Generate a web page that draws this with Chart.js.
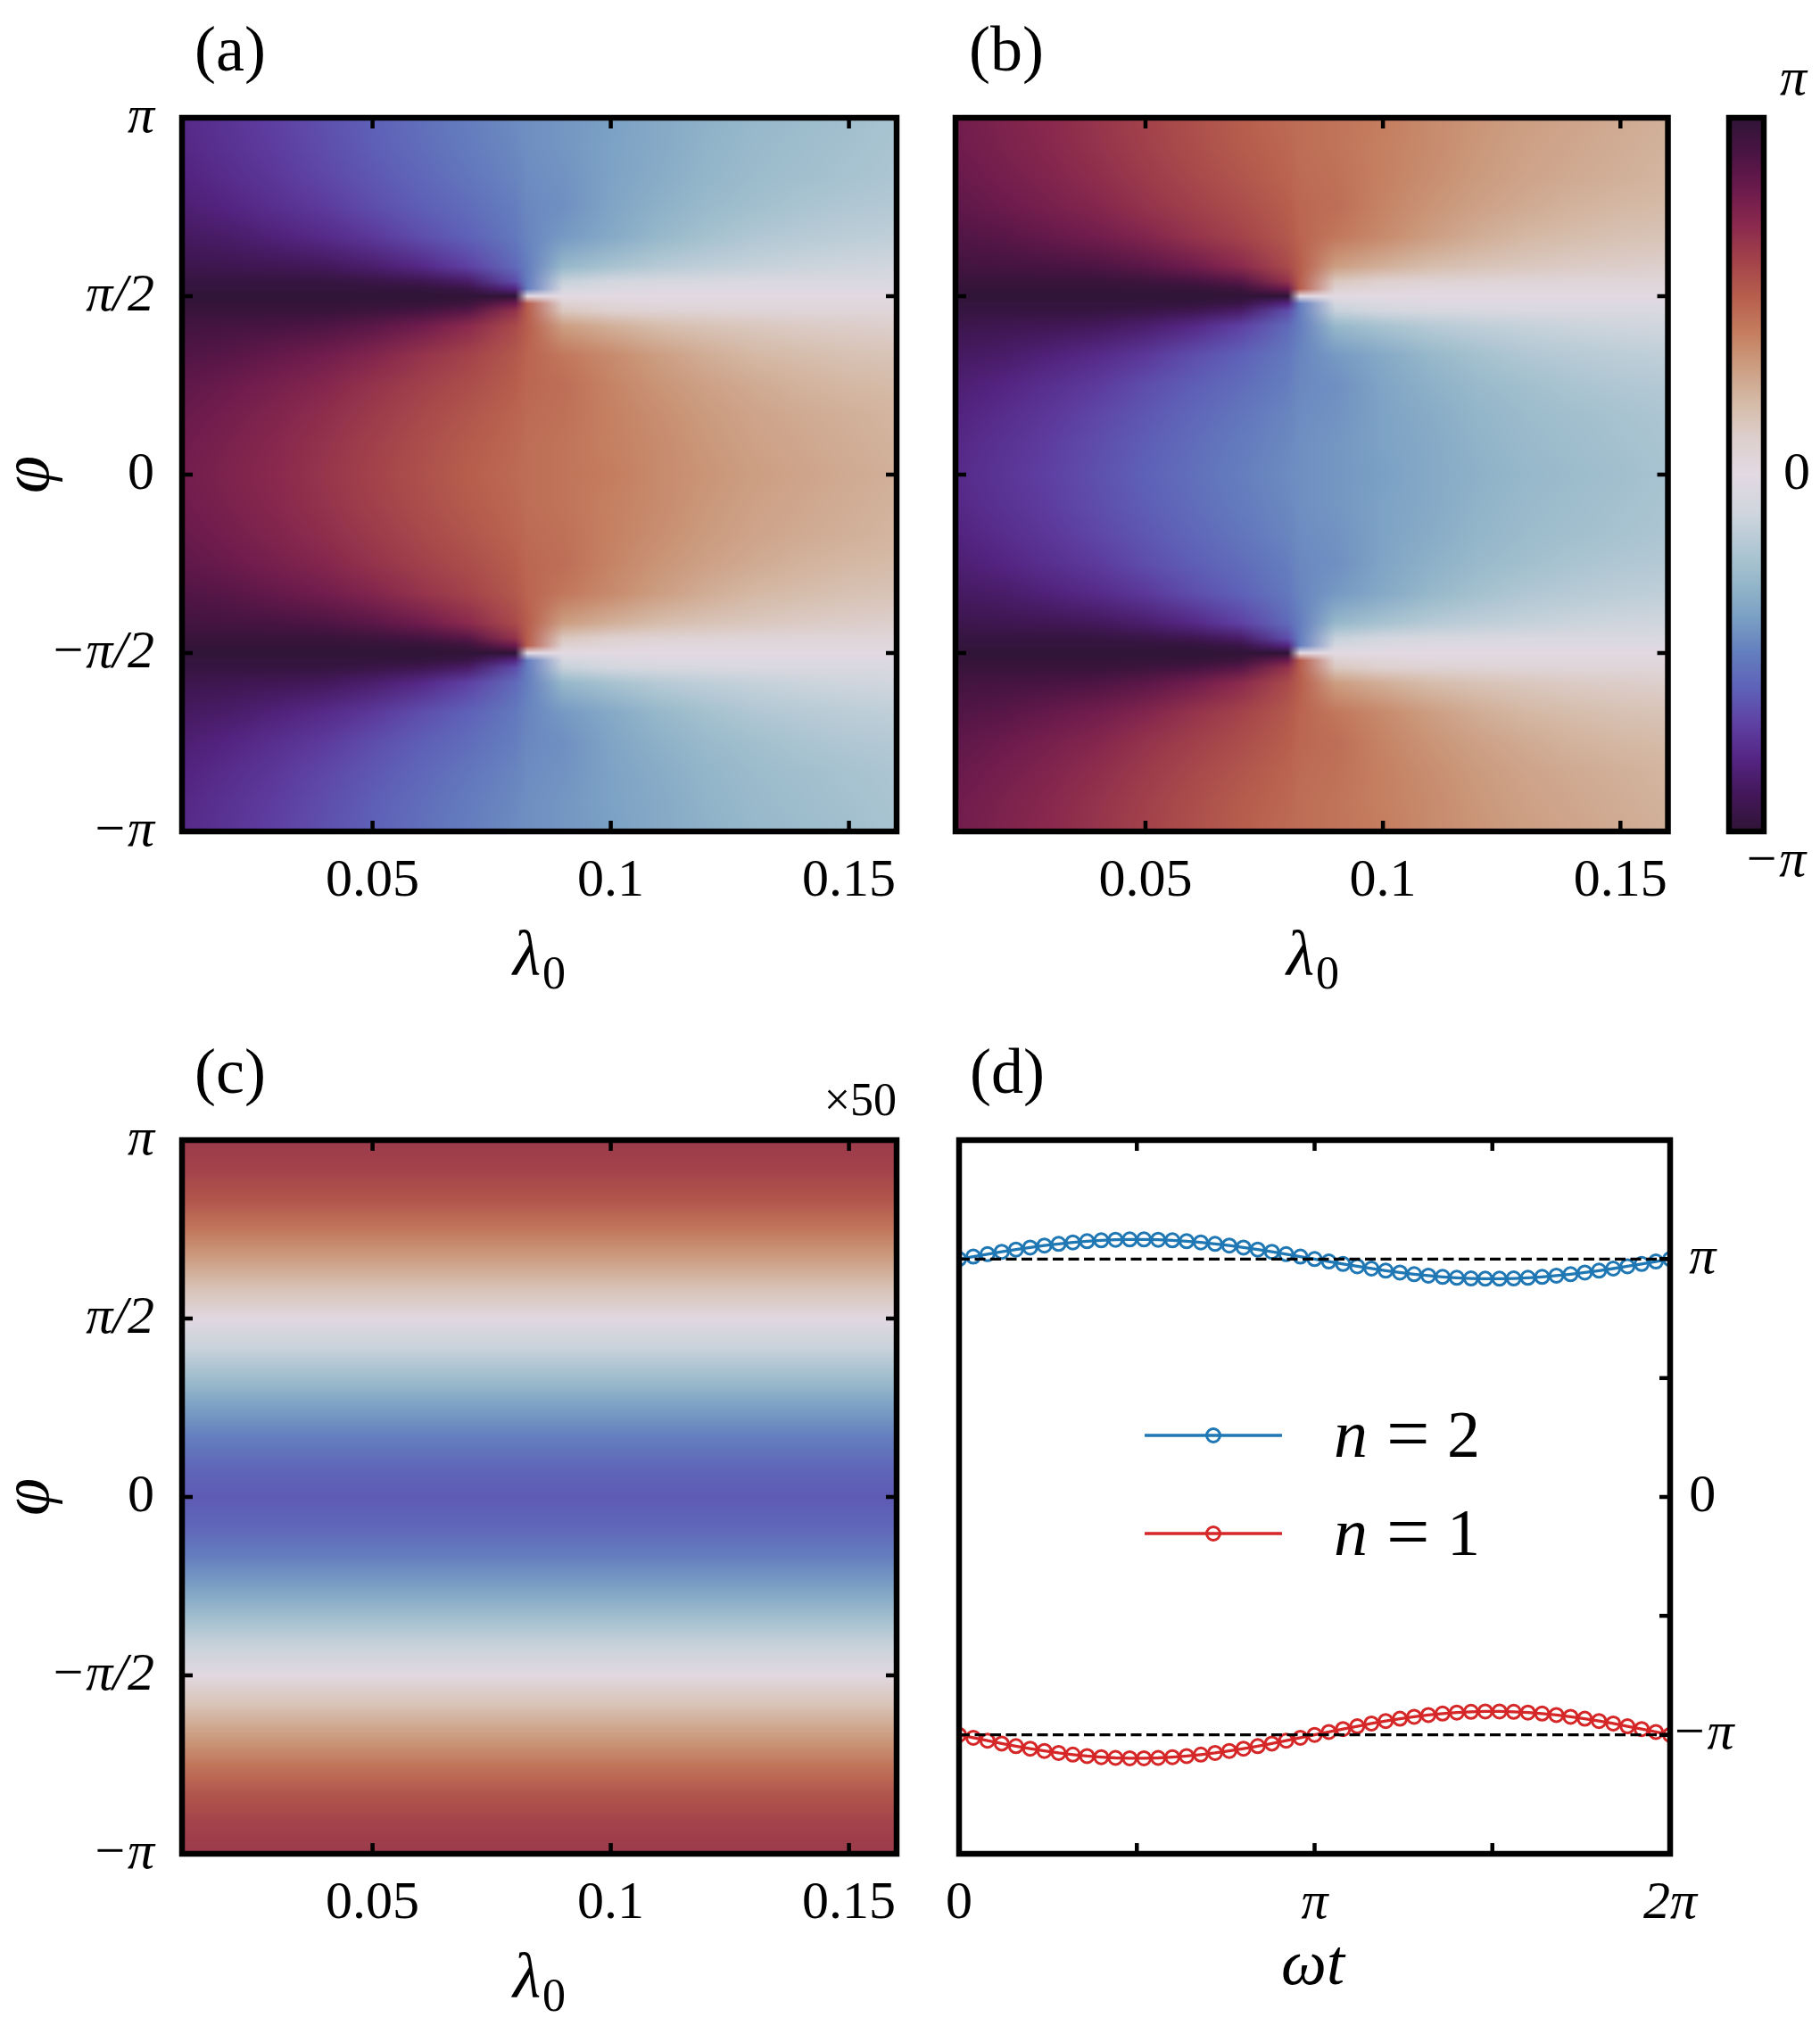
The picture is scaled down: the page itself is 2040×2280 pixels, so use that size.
<!DOCTYPE html>
<html>
<head>
<meta charset="utf-8">
<title>phase maps</title>
<script src="https://cdn.jsdelivr.net/npm/chart.js@4.4.1/dist/chart.umd.min.js"></script>
<style>
  html, body { margin: 0; padding: 0; background: #ffffff; }
  #page { position: relative; width: 2040px; height: 2280px; overflow: hidden; background: #ffffff; }
  #page canvas { position: absolute; }
</style>
</head>
<body>
<div id="page">
  <canvas id="chartA" width="1040" height="1140" style="left:0px;top:0px;width:1040px;height:1140px"></canvas>
  <canvas id="chartB" width="850" height="1140" style="left:1040px;top:0px;width:850px;height:1140px"></canvas>
  <canvas id="chartBar" width="150" height="1140" style="left:1890px;top:0px;width:150px;height:1140px"></canvas>
  <canvas id="chartC" width="1040" height="1140" style="left:0px;top:1140px;width:1040px;height:1140px"></canvas>
  <canvas id="chartD" width="1000" height="1140" style="left:1040px;top:1140px;width:1000px;height:1140px"></canvas>
</div>
<script>
var PI = Math.PI;
var SERIF = '"Liberation Serif", "DejaVu Serif", serif';

// ---------- panels (a), (b): phase on a (lambda_0, phi) grid ----------
// extra column at the branch point (0.0825)
var lambdaGrid = [0.01, 0.02, 0.03, 0.04, 0.05, 0.06, 0.07, 0.08, 0.0825, 0.09, 0.10, 0.11, 0.12, 0.13, 0.14, 0.15, 0.16];
// rows from phi = pi (top) down to -pi; finer rows around +-pi/2
var phiGrid = [PI, 11 * PI / 12, 10 * PI / 12, 9 * PI / 12, 8 * PI / 12, 7 * PI / 12, 13 * PI / 24, 25 * PI / 48,
  PI / 2, 23 * PI / 48, 11 * PI / 24, 5 * PI / 12, 4 * PI / 12, 3 * PI / 12, 2 * PI / 12, PI / 12, 0,
  -PI / 12, -2 * PI / 12, -3 * PI / 12, -4 * PI / 12, -5 * PI / 12, -11 * PI / 24, -23 * PI / 48,
  -PI / 2, -25 * PI / 48, -13 * PI / 24, -7 * PI / 12, -8 * PI / 12, -9 * PI / 12, -10 * PI / 12, -11 * PI / 12, -PI];

// phase / pi
var phaseA = [
  [-0.78,-0.74,-0.70,-0.65,-0.60,-0.55,-0.50,-0.46,-0.45,-0.43,-0.40,-0.36,-0.33,-0.30,-0.28,-0.26,-0.24],
  [-0.79,-0.75,-0.71,-0.66,-0.61,-0.56,-0.51,-0.47,-0.45,-0.43,-0.39,-0.36,-0.32,-0.29,-0.27,-0.25,-0.23],
  [-0.81,-0.77,-0.73,-0.68,-0.63,-0.58,-0.53,-0.48,-0.46,-0.44,-0.39,-0.35,-0.31,-0.28,-0.26,-0.24,-0.22],
  [-0.84,-0.80,-0.76,-0.72,-0.66,-0.61,-0.56,-0.50,-0.47,-0.45,-0.38,-0.33,-0.29,-0.26,-0.23,-0.21,-0.20],
  [-0.88,-0.86,-0.82,-0.78,-0.73,-0.66,-0.60,-0.52,-0.48,-0.42,-0.36,-0.30,-0.25,-0.21,-0.19,-0.17,-0.16],
  [-0.93,-0.92,-0.91,-0.89,-0.85,-0.79,-0.70,-0.57,-0.50,-0.30,-0.24,-0.19,-0.16,-0.14,-0.12,-0.11,-0.10],
  [-0.97,-0.97,-0.97,-0.97,-0.95,-0.92,-0.86,-0.66,-0.50,-0.14,-0.09,-0.07,-0.06,-0.05,-0.05,-0.05,-0.05],
  [-0.98,-0.98,-0.98,-0.98,-0.98,-0.98,-0.95,-0.80,-0.50,-0.08,-0.05,-0.03,-0.03,-0.03,-0.03,-0.03,-0.03],
  [ 1.00, 1.00, 1.00, 1.00, 1.00, 1.00, 1.00, 1.00, 0.00, 0.00, 0.00, 0.00, 0.00, 0.00, 0.00, 0.00, 0.00],
  [ 0.98, 0.98, 0.98, 0.98, 0.98, 0.98, 0.95, 0.80, 0.50, 0.08, 0.05, 0.03, 0.03, 0.03, 0.03, 0.03, 0.03],
  [ 0.97, 0.97, 0.97, 0.97, 0.95, 0.92, 0.86, 0.66, 0.50, 0.14, 0.09, 0.07, 0.06, 0.05, 0.05, 0.05, 0.05],
  [ 0.93, 0.92, 0.91, 0.89, 0.85, 0.79, 0.70, 0.57, 0.50, 0.30, 0.24, 0.19, 0.16, 0.14, 0.12, 0.11, 0.10],
  [ 0.88, 0.86, 0.82, 0.78, 0.73, 0.66, 0.60, 0.52, 0.48, 0.42, 0.36, 0.30, 0.25, 0.21, 0.19, 0.17, 0.16],
  [ 0.84, 0.80, 0.76, 0.72, 0.66, 0.61, 0.56, 0.50, 0.47, 0.45, 0.38, 0.33, 0.29, 0.26, 0.23, 0.21, 0.20],
  [ 0.81, 0.77, 0.73, 0.68, 0.63, 0.58, 0.53, 0.48, 0.46, 0.44, 0.39, 0.35, 0.31, 0.28, 0.26, 0.24, 0.22],
  [ 0.79, 0.75, 0.71, 0.66, 0.61, 0.56, 0.51, 0.47, 0.45, 0.43, 0.39, 0.36, 0.32, 0.29, 0.27, 0.25, 0.23],
  [ 0.78, 0.74, 0.70, 0.65, 0.60, 0.55, 0.50, 0.46, 0.45, 0.43, 0.40, 0.36, 0.33, 0.30, 0.28, 0.26, 0.24],
  [ 0.79, 0.75, 0.71, 0.66, 0.61, 0.56, 0.51, 0.47, 0.45, 0.43, 0.39, 0.36, 0.32, 0.29, 0.27, 0.25, 0.23],
  [ 0.81, 0.77, 0.73, 0.68, 0.63, 0.58, 0.53, 0.48, 0.46, 0.44, 0.39, 0.35, 0.31, 0.28, 0.26, 0.24, 0.22],
  [ 0.84, 0.80, 0.76, 0.72, 0.66, 0.61, 0.56, 0.50, 0.47, 0.45, 0.38, 0.33, 0.29, 0.26, 0.23, 0.21, 0.20],
  [ 0.88, 0.86, 0.82, 0.78, 0.73, 0.66, 0.60, 0.52, 0.48, 0.42, 0.36, 0.30, 0.25, 0.21, 0.19, 0.17, 0.16],
  [ 0.93, 0.92, 0.91, 0.89, 0.85, 0.79, 0.70, 0.57, 0.50, 0.30, 0.24, 0.19, 0.16, 0.14, 0.12, 0.11, 0.10],
  [ 0.97, 0.97, 0.97, 0.97, 0.95, 0.92, 0.86, 0.66, 0.50, 0.14, 0.09, 0.07, 0.06, 0.05, 0.05, 0.05, 0.05],
  [ 0.98, 0.98, 0.98, 0.98, 0.98, 0.98, 0.95, 0.80, 0.50, 0.08, 0.05, 0.03, 0.03, 0.03, 0.03, 0.03, 0.03],
  [ 1.00, 1.00, 1.00, 1.00, 1.00, 1.00, 1.00, 1.00, 0.00, 0.00, 0.00, 0.00, 0.00, 0.00, 0.00, 0.00, 0.00],
  [-0.98,-0.98,-0.98,-0.98,-0.98,-0.98,-0.95,-0.80,-0.50,-0.08,-0.05,-0.03,-0.03,-0.03,-0.03,-0.03,-0.03],
  [-0.97,-0.97,-0.97,-0.97,-0.95,-0.92,-0.86,-0.66,-0.50,-0.14,-0.09,-0.07,-0.06,-0.05,-0.05,-0.05,-0.05],
  [-0.93,-0.92,-0.91,-0.89,-0.85,-0.79,-0.70,-0.57,-0.50,-0.30,-0.24,-0.19,-0.16,-0.14,-0.12,-0.11,-0.10],
  [-0.88,-0.86,-0.82,-0.78,-0.73,-0.66,-0.60,-0.52,-0.48,-0.42,-0.36,-0.30,-0.25,-0.21,-0.19,-0.17,-0.16],
  [-0.84,-0.80,-0.76,-0.72,-0.66,-0.61,-0.56,-0.50,-0.47,-0.45,-0.38,-0.33,-0.29,-0.26,-0.23,-0.21,-0.20],
  [-0.81,-0.77,-0.73,-0.68,-0.63,-0.58,-0.53,-0.48,-0.46,-0.44,-0.39,-0.35,-0.31,-0.28,-0.26,-0.24,-0.22],
  [-0.79,-0.75,-0.71,-0.66,-0.61,-0.56,-0.51,-0.47,-0.45,-0.43,-0.39,-0.36,-0.32,-0.29,-0.27,-0.25,-0.23],
  [-0.78,-0.74,-0.70,-0.65,-0.60,-0.55,-0.50,-0.46,-0.45,-0.43,-0.40,-0.36,-0.33,-0.30,-0.28,-0.26,-0.24]
];

var phaseB = [
  [ 0.78, 0.74, 0.70, 0.65, 0.60, 0.55, 0.50, 0.46, 0.45, 0.43, 0.40, 0.36, 0.33, 0.30, 0.28, 0.26, 0.24],
  [ 0.79, 0.75, 0.71, 0.66, 0.61, 0.56, 0.51, 0.47, 0.45, 0.43, 0.39, 0.36, 0.32, 0.29, 0.27, 0.25, 0.23],
  [ 0.81, 0.77, 0.73, 0.68, 0.63, 0.58, 0.53, 0.48, 0.46, 0.44, 0.39, 0.35, 0.31, 0.28, 0.26, 0.24, 0.22],
  [ 0.84, 0.80, 0.76, 0.72, 0.66, 0.61, 0.56, 0.50, 0.47, 0.45, 0.38, 0.33, 0.29, 0.26, 0.23, 0.21, 0.20],
  [ 0.88, 0.86, 0.82, 0.78, 0.73, 0.66, 0.60, 0.52, 0.48, 0.42, 0.36, 0.30, 0.25, 0.21, 0.19, 0.17, 0.16],
  [ 0.93, 0.92, 0.91, 0.89, 0.85, 0.79, 0.70, 0.57, 0.50, 0.30, 0.24, 0.19, 0.16, 0.14, 0.12, 0.11, 0.10],
  [ 0.97, 0.97, 0.97, 0.97, 0.95, 0.92, 0.86, 0.66, 0.50, 0.14, 0.09, 0.07, 0.06, 0.05, 0.05, 0.05, 0.05],
  [ 0.98, 0.98, 0.98, 0.98, 0.98, 0.98, 0.95, 0.80, 0.50, 0.08, 0.05, 0.03, 0.03, 0.03, 0.03, 0.03, 0.03],
  [ 1.00, 1.00, 1.00, 1.00, 1.00, 1.00, 1.00, 1.00, 0.00, 0.00, 0.00, 0.00, 0.00, 0.00, 0.00, 0.00, 0.00],
  [-0.98,-0.98,-0.98,-0.98,-0.98,-0.98,-0.95,-0.80,-0.50,-0.08,-0.05,-0.03,-0.03,-0.03,-0.03,-0.03,-0.03],
  [-0.97,-0.97,-0.97,-0.97,-0.95,-0.92,-0.86,-0.66,-0.50,-0.14,-0.09,-0.07,-0.06,-0.05,-0.05,-0.05,-0.05],
  [-0.93,-0.92,-0.91,-0.89,-0.85,-0.79,-0.70,-0.57,-0.50,-0.30,-0.24,-0.19,-0.16,-0.14,-0.12,-0.11,-0.10],
  [-0.88,-0.86,-0.82,-0.78,-0.73,-0.66,-0.60,-0.52,-0.48,-0.42,-0.36,-0.30,-0.25,-0.21,-0.19,-0.17,-0.16],
  [-0.84,-0.80,-0.76,-0.72,-0.66,-0.61,-0.56,-0.50,-0.47,-0.45,-0.38,-0.33,-0.29,-0.26,-0.23,-0.21,-0.20],
  [-0.81,-0.77,-0.73,-0.68,-0.63,-0.58,-0.53,-0.48,-0.46,-0.44,-0.39,-0.35,-0.31,-0.28,-0.26,-0.24,-0.22],
  [-0.79,-0.75,-0.71,-0.66,-0.61,-0.56,-0.51,-0.47,-0.45,-0.43,-0.39,-0.36,-0.32,-0.29,-0.27,-0.25,-0.23],
  [-0.78,-0.74,-0.70,-0.65,-0.60,-0.55,-0.50,-0.46,-0.45,-0.43,-0.40,-0.36,-0.33,-0.30,-0.28,-0.26,-0.24],
  [-0.79,-0.75,-0.71,-0.66,-0.61,-0.56,-0.51,-0.47,-0.45,-0.43,-0.39,-0.36,-0.32,-0.29,-0.27,-0.25,-0.23],
  [-0.81,-0.77,-0.73,-0.68,-0.63,-0.58,-0.53,-0.48,-0.46,-0.44,-0.39,-0.35,-0.31,-0.28,-0.26,-0.24,-0.22],
  [-0.84,-0.80,-0.76,-0.72,-0.66,-0.61,-0.56,-0.50,-0.47,-0.45,-0.38,-0.33,-0.29,-0.26,-0.23,-0.21,-0.20],
  [-0.88,-0.86,-0.82,-0.78,-0.73,-0.66,-0.60,-0.52,-0.48,-0.42,-0.36,-0.30,-0.25,-0.21,-0.19,-0.17,-0.16],
  [-0.93,-0.92,-0.91,-0.89,-0.85,-0.79,-0.70,-0.57,-0.50,-0.30,-0.24,-0.19,-0.16,-0.14,-0.12,-0.11,-0.10],
  [-0.97,-0.97,-0.97,-0.97,-0.95,-0.92,-0.86,-0.66,-0.50,-0.14,-0.09,-0.07,-0.06,-0.05,-0.05,-0.05,-0.05],
  [-0.98,-0.98,-0.98,-0.98,-0.98,-0.98,-0.95,-0.80,-0.50,-0.08,-0.05,-0.03,-0.03,-0.03,-0.03,-0.03,-0.03],
  [ 1.00, 1.00, 1.00, 1.00, 1.00, 1.00, 1.00, 1.00, 0.00, 0.00, 0.00, 0.00, 0.00, 0.00, 0.00, 0.00, 0.00],
  [ 0.98, 0.98, 0.98, 0.98, 0.98, 0.98, 0.95, 0.80, 0.50, 0.08, 0.05, 0.03, 0.03, 0.03, 0.03, 0.03, 0.03],
  [ 0.97, 0.97, 0.97, 0.97, 0.95, 0.92, 0.86, 0.66, 0.50, 0.14, 0.09, 0.07, 0.06, 0.05, 0.05, 0.05, 0.05],
  [ 0.93, 0.92, 0.91, 0.89, 0.85, 0.79, 0.70, 0.57, 0.50, 0.30, 0.24, 0.19, 0.16, 0.14, 0.12, 0.11, 0.10],
  [ 0.88, 0.86, 0.82, 0.78, 0.73, 0.66, 0.60, 0.52, 0.48, 0.42, 0.36, 0.30, 0.25, 0.21, 0.19, 0.17, 0.16],
  [ 0.84, 0.80, 0.76, 0.72, 0.66, 0.61, 0.56, 0.50, 0.47, 0.45, 0.38, 0.33, 0.29, 0.26, 0.23, 0.21, 0.20],
  [ 0.81, 0.77, 0.73, 0.68, 0.63, 0.58, 0.53, 0.48, 0.46, 0.44, 0.39, 0.35, 0.31, 0.28, 0.26, 0.24, 0.22],
  [ 0.79, 0.75, 0.71, 0.66, 0.61, 0.56, 0.51, 0.47, 0.45, 0.43, 0.39, 0.36, 0.32, 0.29, 0.27, 0.25, 0.23],
  [ 0.78, 0.74, 0.70, 0.65, 0.60, 0.55, 0.50, 0.46, 0.45, 0.43, 0.40, 0.36, 0.33, 0.30, 0.28, 0.26, 0.24]
];

// ---------- panel (c), x50: depends on phi only ----------
var lambdaC = [0.01];
var phiGridC = [PI, 11 * PI / 12, 10 * PI / 12, 9 * PI / 12, 8 * PI / 12, 7 * PI / 12, PI / 2,
  5 * PI / 12, 4 * PI / 12, 3 * PI / 12, 2 * PI / 12, PI / 12, 0,
  -PI / 12, -2 * PI / 12, -3 * PI / 12, -4 * PI / 12, -5 * PI / 12, -PI / 2,
  -7 * PI / 12, -8 * PI / 12, -9 * PI / 12, -10 * PI / 12, -11 * PI / 12, -PI];
var phaseC = [0.63, 0.60, 0.53, 0.42, 0.30, 0.16, 0.01, -0.13, -0.27, -0.40, -0.50, -0.58, -0.62,
  -0.58, -0.50, -0.40, -0.27, -0.13, 0.01, 0.16, 0.30, 0.42, 0.53, 0.60, 0.63];

var lambdaTicks = [0.05, 0.1, 0.15];
var lambdaTickLabels = ['0.05', '0.1', '0.15'];
var phiTicks = [-PI, -PI / 2, 0, PI / 2, PI];
var phiTickLabels = ['\u2212\u03c0', '\u2212\u03c0/2', '0', '\u03c0/2', '\u03c0'];

// ---------- panel (d) ----------
var omegaT = [0, 0.1257, 0.2513, 0.3770, 0.5027, 0.6283, 0.7540, 0.8796, 1.0053, 1.1310,
  1.2566, 1.3823, 1.5080, 1.6336, 1.7593, 1.8850, 2.0106, 2.1363, 2.2619, 2.3876,
  2.5133, 2.6389, 2.7646, 2.8903, 3.0159, 3.1416, 3.2673, 3.3929, 3.5186, 3.6442,
  3.7699, 3.8956, 4.0212, 4.1469, 4.2726, 4.3982, 4.5239, 4.6496, 4.7752, 4.9009,
  5.0265, 5.1522, 5.2779, 5.4035, 5.5292, 5.6549, 5.7805, 5.9062, 6.0319, 6.1575, 6.2832];
var phaseN2 = [3.142, 3.174, 3.206, 3.237, 3.267, 3.294, 3.320, 3.342, 3.361, 3.377,
  3.389, 3.397, 3.401, 3.401, 3.397, 3.389, 3.377, 3.361, 3.342, 3.320,
  3.294, 3.267, 3.237, 3.206, 3.174, 3.142, 3.109, 3.077, 3.046, 3.016,
  2.989, 2.964, 2.941, 2.922, 2.906, 2.894, 2.886, 2.882, 2.882, 2.886,
  2.894, 2.906, 2.922, 2.941, 2.964, 2.989, 3.016, 3.046, 3.077, 3.109, 3.142];
var phaseN1 = [-3.142, -3.180, -3.219, -3.256, -3.291, -3.324, -3.354, -3.381, -3.403, -3.422,
  -3.436, -3.446, -3.451, -3.451, -3.446, -3.436, -3.422, -3.403, -3.381, -3.354,
  -3.324, -3.291, -3.256, -3.219, -3.180, -3.142, -3.103, -3.065, -3.028, -2.992,
  -2.959, -2.929, -2.903, -2.880, -2.861, -2.847, -2.837, -2.832, -2.832, -2.837,
  -2.847, -2.861, -2.880, -2.903, -2.929, -2.959, -2.992, -3.028, -3.065, -3.103, -3.142];
var refLevels = [PI, -PI];

var wtTicks = [0, PI / 2, PI, 3 * PI / 2, 2 * PI];
var wtTickLabels = ['0', '', '\u03c0', '', '2\u03c0'];
var dTicks = [-PI, -PI / 2, 0, PI / 2, PI];
var dTickLabels = ['\u2212\u03c0', '', '0', '', '\u03c0'];

// cyclic colour map, from -pi to pi in steps of pi/10
var cmapColors = [
  [48, 20, 55], [66, 23, 87], [84, 36, 130], [94, 64, 163], [94, 97, 184], [100, 126, 190],
  [122, 160, 196], [150, 184, 202], [179, 201, 212], [209, 214, 222], [226, 217, 226],
  [221, 207, 205], [213, 187, 168], [204, 158, 130], [196, 125, 94], [183, 94, 77],
  [163, 66, 74], [138, 41, 77], [107, 26, 77], [74, 20, 67], [48, 20, 55]
];

function phaseColor(v) {
  var s = (v + 1) * 10;
  if (s < 0) s = 0;
  if (s > 20) s = 20;
  var i = Math.min(19, Math.floor(s)), t = s - i;
  var c0 = cmapColors[i], c1 = cmapColors[i + 1];
  return [c0[0] + (c1[0] - c0[0]) * t, c0[1] + (c1[1] - c0[1]) * t, c0[2] + (c1[2] - c0[2]) * t];
}

function locate(arr, v) {
  var n = arr.length;
  if (n === 1) return [0, 0, 0];
  var asc = arr[n - 1] > arr[0];
  for (var k = 0; k < n - 1; k++) {
    var lo = arr[k], hi = arr[k + 1];
    if ((asc ? v <= hi : v >= hi) || k === n - 2) {
      var t = (v - lo) / (hi - lo);
      return [k, k + 1, Math.max(0, Math.min(1, t))];
    }
  }
}

function gridPoints(xs, ys, rows) {
  var pts = [];
  for (var j = 0; j < ys.length; j++)
    for (var k = 0; k < xs.length; k++)
      pts.push({ x: xs[k], y: ys[j], v: rows[j][k] });
  return pts;
}

// draws the map cells into the chart area, placed by the x/y scales
function heatPlugin(xs, ys, rows) {
  return {
    id: 'heat',
    beforeDatasetsDraw: function (chart) {
      var a = chart.chartArea, sx = chart.scales.x, sy = chart.scales.y;
      var L = Math.round(a.left), T = Math.round(a.top);
      var w = Math.round(a.right) - L, h = Math.round(a.bottom) - T;
      var cols = rows.map(function (r) { return r.map(phaseColor); });
      var cx = [], cy = [], i, j;
      for (i = 0; i < w; i++) cx.push(locate(xs, sx.getValueForPixel(L + i + 0.5)));
      for (j = 0; j < h; j++) cy.push(locate(ys, sy.getValueForPixel(T + j + 0.5)));
      var off = document.createElement('canvas');
      off.width = w; off.height = h;
      var octx = off.getContext('2d');
      var img = octx.createImageData(w, h), d = img.data;
      for (j = 0; j < h; j++) {
        var r0 = cols[cy[j][0]], r1 = cols[cy[j][1]], ty = cy[j][2];
        for (i = 0; i < w; i++) {
          var k0 = cx[i][0], k1 = cx[i][1], tx = cx[i][2];
          var c00 = r0[k0], c01 = r0[k1], c10 = r1[k0], c11 = r1[k1];
          var p = (j * w + i) * 4;
          for (var ch = 0; ch < 3; ch++) {
            var up = c00[ch] + (c01[ch] - c00[ch]) * tx;
            var dn = c10[ch] + (c11[ch] - c10[ch]) * tx;
            d[p + ch] = up + (dn - up) * ty;
          }
          d[p + 3] = 255;
        }
      }
      octx.putImageData(img, 0, 0);
      chart.ctx.drawImage(off, L, T);
    }
  };
}

// box and inward tick marks
function framePlugin(sides) {
  return {
    id: 'frame',
    afterDraw: function (chart) {
      var ctx = chart.ctx, a = chart.chartArea, sx = chart.scales.x, sy = chart.scales.y;
      ctx.save();
      ctx.strokeStyle = '#000';
      ctx.lineWidth = 4.5;
      ctx.beginPath();
      sx.ticks.forEach(function (t) {
        var p = sx.getPixelForValue(t.value);
        if (sides.bottom) { ctx.moveTo(p, a.bottom); ctx.lineTo(p, a.bottom - 12); }
        if (sides.top) { ctx.moveTo(p, a.top); ctx.lineTo(p, a.top + 12); }
      });
      sy.ticks.forEach(function (t) {
        var p = sy.getPixelForValue(t.value);
        if (sides.left) { ctx.moveTo(a.left, p); ctx.lineTo(a.left + 12, p); }
        if (sides.right) { ctx.moveTo(a.right, p); ctx.lineTo(a.right - 12, p); }
      });
      ctx.stroke();
      ctx.lineWidth = 6.5;
      ctx.strokeRect(a.left, a.top, a.right - a.left, a.bottom - a.top);
      ctx.restore();
    }
  };
}

function text(ctx, s, x, y, font, align) {
  ctx.font = font;
  ctx.textAlign = align || 'left';
  ctx.textBaseline = 'alphabetic';
  ctx.fillStyle = '#000';
  ctx.fillText(s, x, y);
}

function lambdaTitle(ctx, cx, base) {
  ctx.font = 'italic 72px ' + SERIF;
  var w1 = ctx.measureText('\u03bb').width;
  ctx.font = '52px ' + SERIF;
  var w2 = ctx.measureText('0').width;
  var x0 = cx - (w1 + w2 + 2) / 2;
  text(ctx, '\u03bb', x0, base, 'italic 72px ' + SERIF);
  text(ctx, '0', x0 + w1 + 2, base + 15, '52px ' + SERIF);
}

function phiTitle(ctx, x, y) {
  ctx.save();
  ctx.translate(x, y);
  ctx.rotate(-PI / 2);
  ctx.font = 'italic 76px ' + SERIF;
  ctx.textAlign = 'center';
  ctx.textBaseline = 'middle';
  ctx.fillStyle = '#000';
  ctx.fillText('\u03c6', 0, 0);
  ctx.restore();
}

function decorPlugin(ox, oy, draw) {
  return {
    id: 'decor',
    afterDraw: function (chart) {
      var ctx = chart.ctx;
      ctx.save();
      ctx.translate(-ox, -oy);
      draw(ctx, chart);
      ctx.restore();
    }
  };
}

function tickFont(c) {
  var upright = c.tick && c.tick.value === 0;
  return { family: SERIF, size: 60, style: upright ? 'normal' : 'italic', lineHeight: 1.2 };
}

function fixedTicks(values) {
  return function (s) { s.ticks = values.map(function (v) { return { value: v }; }); };
}

function lambdaAxis(xHeight) {
  return {
    type: 'linear', position: 'bottom', min: 0.01, max: 0.16,
    grid: { display: false, drawTicks: false }, border: { display: false },
    afterBuildTicks: fixedTicks(lambdaTicks),
    afterFit: function (s) { s.height = xHeight; },
    ticks: {
      autoSkip: false, maxRotation: 0, padding: 20, color: '#000',
      font: { family: SERIF, size: 60, lineHeight: 1.2 },
      callback: function (v, i) { return lambdaTickLabels[i]; }
    }
  };
}

function phiAxis(yWidth, showLabels) {
  return {
    type: 'linear', position: 'left', min: -PI, max: PI,
    grid: { display: false, drawTicks: false }, border: { display: false },
    afterBuildTicks: fixedTicks(phiTicks),
    afterFit: function (s) { s.width = yWidth; },
    ticks: {
      display: showLabels, autoSkip: false, padding: 31, color: '#000',
      font: tickFont,
      callback: function (v, i) { return phiTickLabels[i]; }
    }
  };
}

function heatChart(id, rows, xs, ys, pad, yWidth, xHeight, showY, decor) {
  return new Chart(document.getElementById(id), {
    type: 'scatter',
    data: { datasets: [{ label: 'phase', data: gridPoints(xs, ys, rows), pointRadius: 0 }] },
    options: {
      responsive: false, animation: false, devicePixelRatio: 1, events: [],
      layout: { padding: pad },
      plugins: { legend: { display: false }, tooltip: { enabled: false } },
      scales: { x: lambdaAxis(xHeight), y: phiAxis(yWidth, showY) }
    },
    plugins: [heatPlugin(xs, ys, rows), framePlugin({ top: true, bottom: true, left: true, right: true }), decor]
  });
}

// (a)
heatChart('chartA', phaseA, lambdaGrid, phiGrid, { left: 0, top: 132, right: 35, bottom: 0 }, 204, 208, true,
  decorPlugin(0, 0, function (ctx) {
    text(ctx, '(a)', 218, 79, '72px ' + SERIF);
    lambdaTitle(ctx, 604.5, 1093);
    phiTitle(ctx, 34, 532);
  }));

// (b)
heatChart('chartB', phaseB, lambdaGrid, phiGrid, { left: 0, top: 132, right: 18, bottom: 0 }, 31, 208, false,
  decorPlugin(1040, 0, function (ctx) {
    text(ctx, '(b)', 1086, 79, '72px ' + SERIF);
    lambdaTitle(ctx, 1471.5, 1093);
  }));

// (c)
heatChart('chartC', phaseC.map(function (v) { return [v]; }), lambdaC, phiGridC,
  { left: 0, top: 138, right: 35, bottom: 0 }, 204, 202, true,
  decorPlugin(0, 1140, function (ctx) {
    text(ctx, '(c)', 218, 1225, '72px ' + SERIF);
    text(ctx, '\u00d750', 1005, 1250, '52px ' + SERIF, 'right');
    lambdaTitle(ctx, 604.5, 2239);
    phiTitle(ctx, 34, 1678);
  }));

// colour bar
new Chart(document.getElementById('chartBar'), {
  type: 'scatter',
  data: { datasets: [{ data: [] }] },
  options: {
    responsive: false, animation: false, devicePixelRatio: 1, events: [],
    layout: { padding: { left: 48, top: 132, right: 63, bottom: 208 } },
    plugins: { legend: { display: false }, tooltip: { enabled: false } },
    scales: {
      x: { type: 'linear', display: false, min: 0, max: 1 },
      y: { type: 'linear', display: false, min: -PI, max: PI }
    }
  },
  plugins: [{
    id: 'bar',
    afterDraw: function (chart) {
      var ctx = chart.ctx, a = chart.chartArea, sy = chart.scales.y;
      for (var py = Math.floor(a.top); py < Math.ceil(a.bottom); py++) {
        var c = phaseColor(sy.getValueForPixel(py + 0.5) / PI);
        ctx.fillStyle = 'rgb(' + Math.round(c[0]) + ',' + Math.round(c[1]) + ',' + Math.round(c[2]) + ')';
        ctx.fillRect(a.left, py, a.right - a.left, 1);
      }
      ctx.strokeStyle = '#000';
      ctx.lineWidth = 6.5;
      ctx.strokeRect(a.left, a.top, a.right - a.left, a.bottom - a.top);
      ctx.save();
      ctx.translate(-1890, 0);
      text(ctx, '\u03c0', 2010, 106, 'italic 60px ' + SERIF, 'center');
      text(ctx, '0', 2014, 548, '60px ' + SERIF, 'center');
      text(ctx, '\u2212\u03c0', 1989, 982, 'italic 60px ' + SERIF, 'center');
      ctx.restore();
    }
  }]
});

// (d)
function xyPairs(xs, ys) {
  return xs.map(function (x, i) { return { x: x, y: ys[i] }; });
}

function refLine(level) {
  return {
    label: 'ref', data: [{ x: 0, y: level }, { x: 2 * PI, y: level }], showLine: true,
    borderColor: '#000', borderWidth: 3.3, borderDash: [12, 5.5], pointRadius: 0, clip: 0
  };
}

function series(label, ys, color) {
  return {
    label: label, data: xyPairs(omegaT, ys), showLine: true, borderColor: color, borderWidth: 3.3,
    pointRadius: 7.5, pointBorderWidth: 3, pointBorderColor: color,
    pointBackgroundColor: 'rgba(0,0,0,0)', clip: 0
  };
}

new Chart(document.getElementById('chartD'), {
  type: 'scatter',
  data: {
    datasets: [
      refLine(refLevels[0]), refLine(refLevels[1]),
      series('n = 2', phaseN2, '#1f77b4'),
      series('n = 1', phaseN1, '#d62728')
    ]
  },
  options: {
    responsive: false, animation: false, devicePixelRatio: 1, events: [],
    layout: { padding: { left: 31, top: 138, right: 68, bottom: 0 } },
    plugins: { legend: { display: false }, tooltip: { enabled: false } },
    scales: {
      x: {
        type: 'linear', position: 'bottom', min: 0, max: 2 * PI,
        grid: { display: false, drawTicks: false }, border: { display: false },
        afterBuildTicks: fixedTicks(wtTicks),
        afterFit: function (s) { s.height = 202; },
        ticks: {
          autoSkip: false, maxRotation: 0, padding: 20, color: '#000', font: tickFont,
          callback: function (v, i) { return wtTickLabels[i]; }
        }
      },
      y: {
        type: 'linear', position: 'right', min: -1.5 * PI, max: 1.5 * PI,
        grid: { display: false, drawTicks: false }, border: { display: false },
        afterBuildTicks: fixedTicks(dTicks),
        afterFit: function (s) { s.width = 100; },
        ticks: {
          autoSkip: false, padding: 1, crossAlign: 'center', color: '#000', font: tickFont,
          callback: function (v, i) { return dTickLabels[i]; }
        }
      }
    }
  },
  plugins: [
    framePlugin({ top: true, bottom: true, left: false, right: true }),
    decorPlugin(1040, 1140, function (ctx, chart) {
      text(ctx, '(d)', 1087, 1225, '72px ' + SERIF);
      text(ctx, '\u03c9t', 1471.5, 2224, 'italic 72px ' + SERIF, 'center');
      // legend
      var rowsY = [1609, 1719], sets = [chart.data.datasets[2], chart.data.datasets[3]];
      sets.forEach(function (ds, i) {
        var y = rowsY[i];
        ctx.strokeStyle = ds.borderColor;
        ctx.lineWidth = 3.3;
        ctx.beginPath();
        ctx.moveTo(1283, y); ctx.lineTo(1437, y);
        ctx.stroke();
        ctx.lineWidth = 3;
        ctx.beginPath();
        ctx.arc(1360, y, 7.5, 0, 2 * PI);
        ctx.stroke();
        var parts = ds.label.split(' = ');
        text(ctx, parts[0], 1495, y + 24, 'italic 76px ' + SERIF);
        text(ctx, '=', 1554, y + 27, '86px ' + SERIF);
        text(ctx, parts[1], 1622, y + 24, '74px ' + SERIF);
      });
    })
  ]
});
</script>
</body>
</html>
